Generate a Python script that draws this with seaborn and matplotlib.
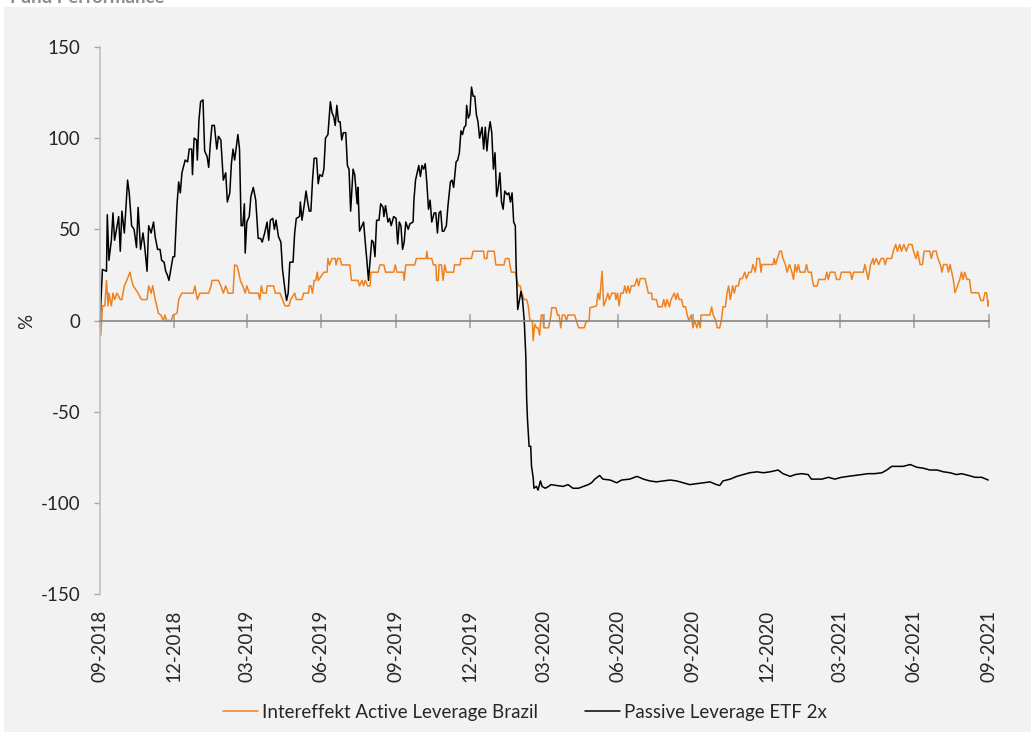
#!/usr/bin/env python3

import pandas as pd
import seaborn as sns
import matplotlib.pyplot as plt
from matplotlib.patches import Rectangle

# (days since 2018-09-01, performance in %)
orange_points = [
    (0, 0), (1, -8), (3, 8), (6, 8), (8, 22), (10, 8), (11, 15), (14, 8), (16, 15), (18, 11.5),
    (21, 15), (25, 11.5), (27, 11.5), (30, 19), (33, 22), (37, 26.5), (39, 22), (41, 19), (47, 15), (51, 11.5),
    (58, 11.5), (60, 19), (63, 15), (65, 19), (68, 11.5), (70, 8), (72, 4), (75, 3), (78, 0), (80, 3),
    (82, 0), (88, 0), (90, 3), (95, 4), (97, 11.5), (101, 15), (115, 15), (117, 19), (120, 11.5), (123, 15),
    (134, 15), (137, 19), (138, 22), (146, 22), (149, 19), (152, 15), (155, 19), (158, 15), (164, 15), (166, 30.5),
    (169, 30), (171, 26.5), (173, 22), (176, 19), (179, 15), (181, 19), (184, 15), (195, 15), (197, 11.5), (199, 19),
    (201, 15), (205, 15), (206, 19), (214, 19), (216, 15), (222, 15), (225, 11.5), (228, 8), (233, 8), (235, 11.5),
    (240, 15), (242, 11.5), (249, 11.5), (251, 15), (257, 15), (258, 19), (260, 19), (262, 15), (264, 22), (266, 22),
    (268, 26.5), (269, 22), (276, 26.5), (280, 26.5), (281, 34), (283, 30.5), (286, 34), (290, 34), (291, 30.5), (293, 34),
    (296, 34), (298, 30.5), (308, 30.5), (310, 22), (318, 22), (320, 19), (323, 22), (325, 19), (327, 22), (330, 19),
    (333, 19), (334, 26.5), (343, 26.5), (345, 30.5), (350, 30.5), (352, 26.5), (362, 26.5), (364, 30.5), (366, 26.5), (374, 26.5),
    (375, 22), (377, 30.5), (388, 30.5), (390, 34), (402, 34), (403, 38), (404, 34), (409, 34), (411, 30.5), (414, 30.5),
    (415, 22), (417, 22), (418, 30.5), (421, 30.5), (423, 22), (425, 30.5), (427, 26.5), (436, 26.5), (437, 30.5), (444, 30.5),
    (445, 34), (458, 34), (460, 38), (473, 38), (474, 34), (477, 34), (478, 38), (486, 38), (488, 30.5), (498, 30.5),
    (500, 34), (504, 34), (507, 26.5), (512, 26.5), (514, 22), (516, 19), (518, 19), (520, 15), (523, 11.5), (526, 11.5),
    (528, 8), (530, 0), (533, 0), (534, -11), (536, -2), (538, -4), (540, -4), (542, -8), (544, 3), (546, 3),
    (547, -4), (553, -4), (556, 3), (557, 7), (562, 7), (564, 3), (566, 3), (568, -4), (570, 3), (573, 3),
    (575, 0), (577, 3), (585, 3), (588, -1), (590, -4), (597, -4), (599, -1), (603, 0), (604, 7), (612, 8),
    (614, 15), (616, 11.5), (619, 27), (621, 8), (624, 11.5), (626, 15), (628, 11.5), (631, 15), (635, 15), (636, 11.5),
    (638, 15), (640, 8), (642, 15), (645, 15), (647, 19), (649, 15), (651, 19), (653, 15), (655, 19), (659, 19),
    (662, 23), (664, 19), (666, 23), (672, 23), (674, 19), (676, 15), (680, 15), (681, 11.5), (686, 11.5), (688, 7.5),
    (693, 7.5), (695, 11.5), (697, 7.5), (699, 11.5), (702, 7.5), (704, 11.5), (708, 15), (710, 11.5), (712, 15), (714, 11.5),
    (717, 11.5), (719, 7.5), (722, 7.5), (724, 3), (726, 0), (729, 3), (731, -4), (733, 0), (736, -4), (738, 0),
    (740, -4), (741, 3), (752, 3), (754, 7.5), (756, 3), (759, 0), (761, -4), (764, -4), (766, 0), (768, 7.5),
    (771, 7.5), (773, 15), (775, 19), (777, 11.5), (780, 19), (782, 15), (784, 19), (787, 19), (789, 23), (792, 23),
    (795, 26.5), (797, 23), (800, 26.5), (803, 26.5), (805, 30.7), (808, 26.5), (810, 34), (813, 34), (815, 26.5), (816, 30.7),
    (830, 30.7), (831, 34), (833, 30.7), (835, 34), (838, 38), (840, 38), (842, 34), (845, 30.7), (847, 26.5), (850, 30.7),
    (853, 26.5), (855, 22.5), (857, 30.7), (859, 26.5), (861, 30.7), (863, 26.5), (869, 26.5), (871, 30.7), (873, 26.5), (877, 26.5),
    (878, 22.5), (880, 18.8), (884, 18.8), (886, 22.5), (894, 22.5), (896, 26.5), (898, 22.5), (900, 26.5), (906, 26.5), (908, 22.5),
    (912, 22.5), (914, 26.5), (925, 26.5), (927, 22.5), (929, 26.5), (941, 26.5), (943, 30.7), (947, 22.5), (950, 30.7), (953, 34),
    (954, 30.7), (957, 34), (960, 30.7), (963, 34), (966, 34), (968, 30.7), (970, 34), (976, 34), (978, 38), (981, 41.7),
    (983, 38), (986, 41.7), (988, 38), (991, 41.7), (994, 38), (997, 41.7), (1001, 41.7), (1003, 38), (1006, 34), (1008, 38),
    (1011, 30.7), (1014, 30.7), (1016, 38), (1023, 38), (1025, 34), (1027, 38), (1031, 38), (1033, 34), (1036, 30.7), (1038, 26.5),
    (1040, 30.7), (1044, 30.7), (1046, 26.5), (1048, 30.7), (1050, 26.5), (1052, 22.5), (1054, 15.2), (1057, 18.8), (1060, 22.5), (1062, 26.5),
    (1064, 22.5), (1066, 26.5), (1069, 22.5), (1072, 22.5), (1074, 15.2), (1083, 15.2), (1086, 11), (1089, 11), (1091, 15.2), (1093, 15.2),
    (1095, 7.9), (1096, 11),
]

black_points = [
    (0, 0), (3, 28), (8, 27), (9, 58), (11, 33), (14, 44), (16, 59), (18, 44), (23, 57), (25, 38),
    (27, 60), (30, 48), (32, 62), (34, 77), (36, 70), (39, 52), (42, 50), (45, 40), (47, 62), (50, 39),
    (53, 48), (55, 41), (58, 27), (60, 52), (63, 48), (66, 54), (68, 46), (71, 39), (74, 39), (76, 33),
    (79, 32), (81, 27), (83, 25), (85, 22), (88, 30), (90, 35), (92, 35), (95, 64), (97, 76), (99, 70),
    (101, 81), (105, 88), (108, 87), (110, 94), (113, 94), (114, 80), (116, 100), (119, 99), (120, 88), (122, 110),
    (124, 120), (127, 121), (129, 93), (132, 90), (134, 84), (136, 97), (138, 107), (141, 107), (144, 94), (146, 101),
    (149, 99), (152, 77), (155, 81), (157, 65), (160, 70), (162, 86), (164, 94), (166, 88), (170, 102), (172, 94),
    (174, 52), (176, 52), (178, 64), (179, 37), (181, 54), (184, 57), (186, 68), (189, 73), (192, 66), (195, 45),
    (198, 45), (200, 43), (203, 48), (206, 54), (208, 44), (210, 55), (213, 56), (215, 50), (217, 55), (220, 46),
    (223, 43), (225, 28), (228, 17), (230, 11), (232, 15), (234, 32), (238, 32), (240, 48), (242, 56), (246, 57),
    (247, 65), (249, 55), (252, 64), (254, 71), (256, 65), (258, 60), (260, 60), (262, 77), (264, 89), (267, 89),
    (269, 75), (271, 80), (274, 79), (276, 83), (278, 100), (281, 102), (284, 120), (286, 114), (288, 112), (290, 107),
    (292, 118), (294, 109), (296, 109), (298, 99), (300, 103), (303, 103), (305, 85), (307, 83), (309, 60), (312, 83),
    (314, 80), (317, 64), (318, 73), (320, 49), (323, 52), (325, 54), (327, 43), (329, 33), (331, 22), (333, 33),
    (335, 44), (337, 43), (339, 35), (341, 55), (344, 55), (346, 64), (349, 62), (350, 57), (352, 63), (355, 54),
    (357, 56), (359, 52), (362, 57), (365, 56), (367, 42), (369, 54), (371, 52), (373, 39), (375, 43), (377, 54),
    (380, 50), (382, 53), (386, 54), (387, 66), (389, 77), (391, 81), (393, 85), (395, 79), (397, 85), (399, 83),
    (401, 86), (403, 75), (405, 61), (407, 66), (409, 54), (412, 59), (414, 59), (416, 48), (418, 59), (420, 60),
    (422, 49), (424, 49), (427, 52), (429, 63), (432, 76), (434, 77), (436, 73), (439, 87), (441, 88), (443, 92),
    (445, 104), (447, 102), (449, 106), (451, 107), (452, 118), (454, 111), (456, 113), (458, 128), (460, 123), (462, 123),
    (464, 113), (466, 109), (468, 100), (471, 106), (473, 94), (475, 106), (477, 93), (479, 103), (481, 109), (483, 103),
    (485, 83), (487, 92), (489, 68), (491, 73), (493, 81), (495, 65), (497, 61), (499, 71), (502, 69), (504, 70),
    (506, 65), (508, 70), (510, 54), (512, 52), (513, 30), (515, 6), (517, 11), (519, 16), (521, 11), (523, 0),
    (525, -20), (526, -43), (527, -54), (529, -69), (531, -69), (532, -80), (534, -86), (535, -92), (538, -91), (540, -93),
    (543, -88), (545, -91), (549, -92), (553, -91), (556, -90), (563, -90.5), (571, -91), (577, -90), (583, -92), (590, -92),
    (596, -91), (602, -90), (606, -89), (610, -87), (616, -85), (620, -87), (629, -87.5), (637, -89), (643, -87.5), (653, -87),
    (662, -85.5), (670, -87), (678, -88), (686, -88.5), (694, -88), (703, -87.5), (711, -88), (719, -89), (727, -90), (736, -89.5),
    (744, -89), (752, -88.5), (760, -90), (764, -90.5), (768, -88), (777, -87), (785, -85.5), (793, -84.5), (801, -83.5), (810, -83),
    (818, -83.5), (826, -83), (836, -82), (842, -84), (851, -85.5), (857, -84.5), (865, -84), (873, -84.5), (877, -87), (884, -87),
    (890, -87), (898, -86), (906, -87), (914, -86), (922, -85.5), (931, -85), (939, -84.5), (947, -84), (955, -84), (964, -83.5),
    (970, -82), (976, -80), (984, -80), (990, -80), (999, -79), (1007, -80.5), (1015, -81), (1023, -82), (1032, -82), (1040, -83),
    (1048, -83.5), (1056, -84.5), (1062, -84), (1071, -85), (1079, -86), (1087, -86), (1095, -87.5),
]

series_names = ['Intereffekt Active Leverage Brazil', 'Passive Leverage ETF 2x']
series_colors = ['#f0821e', '#000000']
start_date = '2018-09-01'
end_date = '2021-09-01'
y_ticks = [-150, -100, -50, 0, 50, 100, 150]


def to_frame(points):
    df = pd.DataFrame(points, columns=['day', 'pct'])
    df['date'] = pd.Timestamp(start_date) + pd.to_timedelta(df['day'], unit='D')
    return df


def make_plot():
    sns.set_style('white')
    plt.rcParams['font.family'] = ['Lato', 'DejaVu Sans']
    plt.rcParams['axes.unicode_minus'] = False
    fs = 13.5
    W, H = 1031, 732

    fig = plt.figure(figsize=(W / 100, H / 100), dpi=100, facecolor='white')
    # grey chart area behind everything
    fig.patches.append(Rectangle((4 / W, 0), 1 - 4 / W, 1 - 7 / H, transform=fig.transFigure,
                                 facecolor='#f2f2f2', edgecolor='none', zorder=-10))
    fig.text(10 / W, 1 - 3 / H, 'Fund Performance', fontsize=fs, fontweight='bold',
             color='#8c8c8c', va='baseline', ha='left')

    ax = fig.add_axes([100 / W, 1 - 594 / H, 889 / W, 547 / H])
    ax.patch.set_alpha(0)

    for pts, name, col in zip([orange_points, black_points], series_names, series_colors):
        sns.lineplot(data=to_frame(pts), x='date', y='pct', ax=ax, color=col, linewidth=1.1,
                     label=name, estimator=None, sort=False)

    ax.set_xlim(pd.Timestamp(start_date), pd.Timestamp(end_date))
    ax.set_ylim(-150, 150)
    ax.set_yticks(y_ticks)
    ax.set_xlabel('')
    ax.set_ylabel('')

    for s in ['top', 'right']:
        ax.spines[s].set_visible(False)
    ax.spines['bottom'].set_position(('data', 0))
    ax.spines['bottom'].set_color('#858585')
    ax.spines['bottom'].set_linewidth(1.2)
    ax.spines['left'].set_color('#bfbfbf')
    ax.spines['left'].set_linewidth(1.2)

    quarters = pd.date_range(start_date, end_date, freq='3MS')
    ax.set_xticks(quarters)
    ax.tick_params(axis='x', direction='inout', length=10, width=1.2, color='#a6a6a6',
                   bottom=True, labelbottom=False)
    ax.tick_params(axis='y', direction='out', length=4, width=1, color='#a6a6a6',
                   labelsize=fs, pad=10, left=True)
    for q in quarters:
        ax.text(q, -0.029, q.strftime('%m-%Y'), transform=ax.get_xaxis_transform(),
                rotation=90, ha='center', va='top', fontsize=fs)

    fig.text(27 / W, 1 - 321 / H, '%', rotation=90, ha='center', va='center', fontsize=fs)

    ax.legend(loc='center', bbox_to_anchor=(0.509, 0.027), bbox_transform=fig.transFigure,
              ncol=2, frameon=False, fontsize=fs, handlelength=1.9, handletextpad=0.2,
              columnspacing=2.5)

    fig.savefig('out.png', dpi=100, facecolor='white')


if __name__ == '__main__':
    make_plot()
